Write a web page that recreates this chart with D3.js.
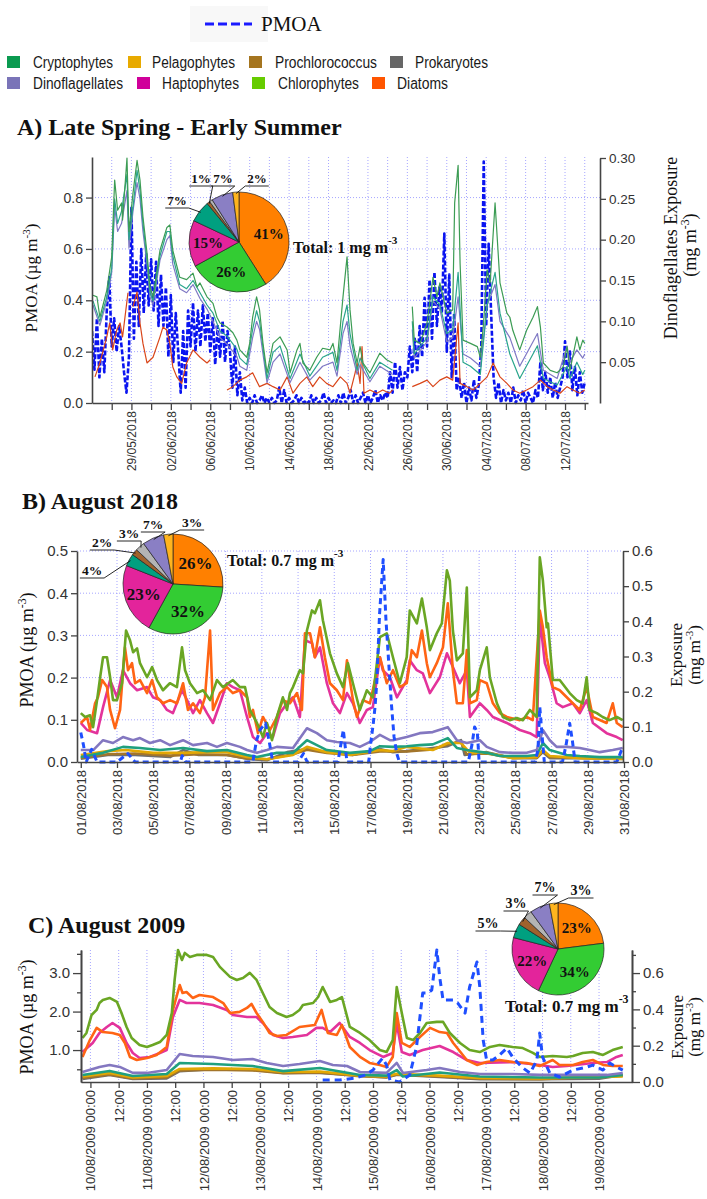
<!DOCTYPE html>
<html>
<head>
<meta charset="utf-8">
<script src="https://cdn.jsdelivr.net/npm/d3@7"></script>
<style>
  body { margin: 0; background: #fff; }
</style>
</head>
<body>
<svg id="fig" width="707" height="1199" font-family="Liberation Sans, Arial, sans-serif"></svg>
<script>
// ---------- data ----------
const groups = ["Cryptophytes", "Pelagophytes", "Prochlorococcus", "Prokaryotes",
                "Dinoflagellates", "Haptophytes", "Chlorophytes", "Diatoms"];
const legendColor = {
  Cryptophytes: "#0a9a50", Pelagophytes: "#e8aa00", Prochlorococcus: "#a5751f", Prokaryotes: "#666666",
  Dinoflagellates: "#7a74b8", Haptophytes: "#d0009a", Chlorophytes: "#66cc00", Diatoms: "#ff5500"
};
const lineColor = {
  Cryptophytes: "#1fa07e", Pelagophytes: "#e2a704", Prochlorococcus: "#a3752a", Prokaryotes: "#6e6e6e",
  Dinoflagellates: "#8377c0", Haptophytes: "#e3339b", Chlorophytes: "#6aa624", Diatoms: "#ff6414"
};
const pieColor = {
  Diatoms: "#ff8000", Chlorophytes: "#33cc33", Haptophytes: "#e3249b", Cryptophytes: "#00a080",
  Prochlorococcus: "#a0622d", Prokaryotes: "#b4b4b4", Dinoflagellates: "#8a7fc4", Pelagophytes: "#ffb41e"
};
const pieOrder = ["Diatoms", "Chlorophytes", "Haptophytes", "Cryptophytes",
                  "Prochlorococcus", "Prokaryotes", "Dinoflagellates", "Pelagophytes"];
const pieA = [41, 26, 15, 7, 1, 1, 7, 2];
const pieB = [26, 32, 23, 4, 2, 3, 7, 3];
const pieC = [23, 34, 22, 5, 3, 3, 7, 3];
const totalA = "Total: 1 mg m", totalB = "Total: 0.7 mg m", totalC = "Total: 0.7 mg m";

// panel A: [day since 25/05/2018, value]; PMOA every 6 h
const aGreen = [[0.1,0.132],[0.5,0.130],[0.8,0.105],[1.5,0.138],[2.0,0.179],[2.3,0.273],[2.6,0.236],[3.0,0.245],[3.1,0.224],[3.55,0.30],[3.75,0.21],[4.16,0.257],[4.57,0.297],[4.87,0.273],[5.17,0.228],[5.58,0.184],[5.89,0.142],[6.19,0.130],[6.9,0.187],[7.6,0.215],[7.9,0.218],[8.2,0.187],[8.9,0.154],[9.6,0.151],[10.25,0.159],[10.65,0.142],[10.96,0.147],[11.67,0.130],[12.28,0.122],[12.68,0.105],[12.99,0.098],[13.7,0.093],[14.3,0.086],[14.7,0.077],[15.0,0.065],[15.7,0.056],[16.0,0.073],[16.3,0.105],[16.7,0.130],[17.0,0.114],[17.35,0.073],[17.76,0.037],[18.37,0.073],[19.08,0.081],[19.8,0.065],[20.1,0.037],[20.8,0.065],[21.1,0.073],[21.4,0.049],[22.1,0.040],[22.8,0.056],[23.4,0.067],[24.15,0.065],[24.45,0.073],[24.86,0.049],[25.47,0.130],[25.88,0.179],[26.18,0.114],[26.5,0.073],[26.9,0.049],[27.2,0.069],[27.5,0.049],[28.2,0.037],[29.2,0.061],[29.9,0.053],[30.5,0.049],[31.5,null],[32.5,0.118],[32.7,0.077],[33.3,0.073],[34.0,0.098],[34.6,0.154],[35.0,0.130],[35.3,0.147],[36.0,0.110],[36.6,0.114],[36.8,0.245],[37.15,0.291],[37.35,0.171],[37.65,0.077],[38.4,0.073],[39.1,0.069],[39.4,0.056],[39.7,0.093],[40.1,0.163],[40.4,0.147],[40.9,0.245],[41.4,0.147],[42.1,0.110],[42.4,0.105],[42.7,0.089],[43.4,0.065],[44.1,0.089],[44.75,0.105],[45.2,0.118],[45.5,0.093],[45.8,0.049],[46.5,0.040],[47.2,0.037],[47.8,0.044],[48.2,0.069],[48.5,0.040],[49.2,0.081],[49.5,0.065],[49.8,0.077],[50.0,0.073]];
const aTeal = [[0.1,0.125],[0.8,0.10],[1.5,0.13],[2.0,0.165],[2.3,0.25],[2.6,0.22],[3.0,0.235],[3.55,0.28],[3.75,0.2],[4.16,0.24],[4.57,0.285],[4.87,0.26],[5.17,0.22],[5.58,0.175],[5.89,0.135],[6.19,0.125],[6.9,0.18],[7.6,0.21],[7.9,0.21],[8.2,0.18],[8.9,0.145],[9.6,0.14],[10.25,0.15],[10.96,0.135],[11.67,0.12],[12.28,0.11],[12.99,0.088],[13.7,0.082],[14.7,0.066],[15.0,0.055],[15.7,0.047],[16.3,0.09],[16.7,0.113],[17.0,0.1],[17.76,0.03],[18.37,0.062],[19.08,0.07],[20.1,0.03],[21.1,0.06],[22.1,0.033],[23.4,0.056],[24.45,0.062],[24.86,0.04],[25.47,0.1],[25.88,0.12],[26.18,0.085],[26.9,0.04],[27.2,0.055],[28.2,0.03],[29.2,0.05],[30.5,0.04],[31.5,null],[32.5,0.1],[32.7,0.06],[34.0,0.08],[34.6,0.13],[35.3,0.12],[36.0,0.085],[36.6,0.09],[37.15,0.16],[37.65,0.05],[38.4,0.045],[39.4,0.035],[40.1,0.12],[40.9,0.16],[41.4,0.11],[42.4,0.06],[43.4,0.03],[44.75,0.06],[45.2,0.07],[45.8,0.03],[47.2,0.022],[48.2,0.045],[48.5,0.03],[49.2,0.05],[49.8,0.035],[50.0,0.04]];
const aPurple = [[0.1,0.12],[0.8,0.095],[1.5,0.125],[2.0,0.16],[2.3,0.24],[2.6,0.21],[3.0,0.22],[3.55,0.26],[3.75,0.19],[4.16,0.235],[4.57,0.27],[4.87,0.25],[5.17,0.21],[5.58,0.17],[5.89,0.13],[6.19,0.12],[6.9,0.175],[7.6,0.2],[7.9,0.205],[8.2,0.17],[8.9,0.14],[9.6,0.135],[10.25,0.145],[10.96,0.128],[11.67,0.115],[12.28,0.1],[12.99,0.08],[13.7,0.072],[14.7,0.057],[15.0,0.045],[15.7,0.04],[16.3,0.08],[16.7,0.1],[17.0,0.09],[17.76,0.025],[18.37,0.05],[19.08,0.06],[20.1,0.025],[21.1,0.05],[22.1,0.028],[23.4,0.045],[24.45,0.05],[24.86,0.033],[25.47,0.085],[25.88,0.1],[26.18,0.07],[26.9,0.035],[27.2,0.047],[28.2,0.026],[29.2,0.045],[30.5,0.035],[31.5,null],[32.5,0.09],[32.7,0.055],[34.0,0.075],[34.6,0.125],[35.3,0.115],[36.0,0.075],[36.6,0.08],[37.15,0.13],[37.65,0.06],[38.4,0.055],[39.4,0.045],[40.1,0.12],[40.9,0.145],[41.4,0.1],[42.4,0.08],[43.4,0.045],[44.75,0.075],[45.2,0.085],[45.8,0.04],[47.2,0.03],[48.2,0.07],[48.5,0.05],[49.2,0.065],[49.8,0.055],[50.0,0.06]];
const aOrange = [[0.3,0.032],[0.8,0.049],[1.5,0.081],[1.8,0.098],[2.1,0.065],[2.5,0.089],[2.85,0.098],[3.1,0.081],[3.65,0.135],[3.9,null],[4.16,0.118],[4.57,0.136],[4.87,0.098],[5.17,0.073],[5.58,0.049],[6.19,0.056],[6.9,0.081],[7.2,0.093],[7.6,0.089],[7.9,0.073],[8.2,0.044],[8.6,0.032],[9.1,0.024],[9.6,0.049],[10.25,0.065],[10.96,0.056],[11.67,0.049],[12.0,0.053],[13.0,null],[13.7,0.016],[14.3,0.02],[15.0,0.028],[15.7,0.032],[16.3,0.037],[17.0,0.02],[17.76,0.024],[18.37,0.02],[19.08,0.016],[19.8,0.032],[20.4,0.012],[21.1,0.024],[21.8,0.032],[22.4,0.02],[23.1,0.032],[23.8,0.024],[24.45,0.02],[25.2,0.032],[25.88,0.024],[26.18,0.012],[26.7,0.037],[26.9,0.049],[27.2,0.024],[27.4,0.069],[27.6,0.012],[28.2,0.016],[28.9,0.012],[29.5,0.016],[30.2,0.012],[30.5,0.016],[31.5,null],[32.5,0.02],[33.3,0.024],[34.0,0.028],[34.6,0.02],[35.3,0.028],[36.0,0.032],[36.6,0.028],[37.15,0.098],[37.35,0.024],[38.05,0.02],[38.7,0.016],[39.4,0.024],[40.1,0.032],[40.7,0.049],[41.4,0.032],[42.1,0.024],[42.7,0.016],[43.4,0.012],[44.1,0.016],[44.75,0.02],[45.5,0.028],[46.2,0.02],[46.8,0.016],[47.5,0.012],[48.2,0.02],[48.8,0.016],[49.5,0.012],[50.0,0.016]];
const pmoaA = [0.28,0.13,0.33,0.10, 0.25,0.12,0.36,0.49, 0.22,0.33,0.20,0.30, 0.22,0.12,0.04,0.18,
  0.76,0.25,0.55,0.30, 0.60,0.35,0.58,0.38, 0.56,0.36,0.55,0.30, 0.50,0.30,0.45,0.18,
  0.42,0.16,0.35,0.20, 0.04,0.28,0.06,0.36, 0.22,0.39,0.20,0.36, 0.22,0.38,0.24,0.35,
  0.20,0.33,0.15,0.30, 0.18,0.32,0.16,0.28, 0.20,0.06,0.22,0.03, 0.12,0.01,0.06,0.00,
  0.02,0.00,0.03,0.00, 0.01,0.03,0.00,0.02, 0.00,0.02,0.00,0.01, 0.06,0.00,0.05,0.00,
  0.02,0.00,0.01,0.03, 0.00,0.02,0.00,0.01, 0.00,0.03,0.00,0.02, 0.00,0.01,0.04,0.00,
  0.02,0.00,0.01,0.00, 0.03,0.00,0.04,0.00, 0.02,0.05,0.00,0.03, 0.00,0.02,0.04,0.00,
  0.03,0.00,0.02,0.05, 0.00,0.03,0.01,0.04, 0.02,0.12,0.04,0.16, 0.06,0.14,0.05,0.12,
  0.10,0.22,0.12,0.25, 0.12,0.30,0.18,0.41, 0.22,0.48,0.25,0.51, 0.30,0.45,0.35,0.66,
  0.20,0.50,0.10,0.35, 0.05,0.10,0.02,0.08, 0.00,0.06,0.01,0.09, 0.02,0.07,0.22,0.94,
  0.30,0.62,0.35,0.10, 0.02,0.08,0.00,0.05, 0.01,0.04,0.00,0.06, 0.00,0.03,0.01,0.05,
  0.00,0.04,0.02,0.00, 0.05,0.02,0.16,0.05, 0.12,0.04,0.10,0.02, 0.08,0.02,0.06,0.10,
  0.24,0.10,0.20,0.05, 0.14,0.03,0.12,0.04, 0.08];

// panel B: [day since 01/08/2018, value]
const bChloro = [[0.0,0.139],[0.24,0.128],[0.51,0.133],[0.68,0.099],[0.9,0.176],[1.07,0.241],[1.23,0.298],[1.45,0.298],[1.62,0.241],[1.78,0.176],[2.0,0.176],[2.28,0.224],[2.5,0.374],[2.72,0.346],[2.89,0.312],[3.11,0.323],[3.27,0.281],[3.66,0.241],[3.94,0.27],[4.21,0.233],[4.54,0.204],[4.92,0.224],[5.31,0.213],[5.59,0.326],[5.76,0.261],[6.03,0.224],[6.42,0.196],[6.75,0.204],[7.14,0.176],[7.52,0.233],[7.85,0.213],[8.4,0.233],[8.79,0.213],[9.07,0.213],[9.34,0.148],[9.73,0.111],[10.06,0.071],[10.28,0.111],[10.56,0.062],[10.83,0.128],[11.16,0.184],[11.39,0.148],[11.55,0.196],[11.72,0.213],[12.1,0.261],[12.27,0.252],[12.49,0.374],[12.77,0.431],[12.93,0.423],[13.21,0.46],[13.37,0.403],[13.76,0.309],[14.14,0.252],[14.48,0.213],[14.75,0.281],[15.03,0.224],[15.41,0.148],[15.8,0.204],[16.13,0.184],[16.52,0.355],[16.9,0.366],[17.24,0.298],[17.62,0.224],[18.0,0.298],[18.17,0.431],[18.56,0.394],[18.84,0.465],[19.11,0.383],[19.28,0.318],[19.66,0.366],[19.94,0.394],[20.22,0.545],[20.38,0.516],[20.55,0.374],[20.77,0.289],[21.1,0.309],[21.32,0.496],[21.49,0.184],[21.87,0.204],[22.04,0.261],[22.42,0.326],[22.59,0.241],[22.98,0.167],[23.31,0.128],[23.69,0.119],[24.08,0.125],[24.41,0.119],[24.8,0.148],[25.18,0.128],[25.35,0.582],[25.52,0.516],[25.73,0.383],[25.8,0.394],[26.07,0.233],[26.45,0.233],[27.0,0.196],[27.39,0.176],[27.72,0.167],[27.94,0.241],[28.1,0.148],[28.5,0.139],[28.82,0.128],[29.2,0.119],[29.6,0.128],[29.93,0.119]];
const bDiatoms = [[0.0,0.111],[0.35,0.128],[0.51,0.091],[0.79,0.167],[0.95,0.184],[1.18,0.233],[1.45,0.213],[1.62,0.148],[1.89,0.096],[2.17,0.148],[2.44,0.326],[2.61,0.261],[2.83,0.281],[3.0,0.224],[3.27,0.233],[3.66,0.196],[3.94,0.233],[4.21,0.184],[4.54,0.167],[4.93,0.176],[5.31,0.167],[5.65,0.224],[5.92,0.148],[6.2,0.167],[6.58,0.139],[6.86,0.184],[7.14,0.374],[7.3,0.148],[7.69,0.196],[8.07,0.213],[8.4,0.196],[8.79,0.204],[9.18,0.184],[9.34,0.128],[9.51,0.148],[9.79,0.082],[10.06,0.128],[10.45,0.091],[10.83,0.128],[11.16,0.176],[11.55,0.167],[11.94,0.196],[12.21,0.148],[12.38,0.366],[12.66,0.366],[12.93,0.298],[13.21,0.383],[13.48,0.298],[13.76,0.224],[14.14,0.204],[14.48,0.176],[14.7,0.289],[15.03,0.176],[15.25,0.128],[15.58,0.176],[15.97,0.167],[16.52,0.298],[16.9,0.224],[17.24,0.261],[17.62,0.213],[18.0,0.224],[18.28,0.318],[18.56,0.298],[18.84,0.374],[19.11,0.281],[19.28,0.241],[19.66,0.281],[20.0,0.326],[20.27,0.451],[20.55,0.261],[20.77,0.167],[21.1,0.167],[21.32,0.318],[21.49,0.167],[21.87,0.176],[22.04,0.233],[22.42,0.224],[22.76,0.167],[23.14,0.139],[23.53,0.128],[24.25,0.119],[24.63,0.128],[24.96,0.119],[25.35,0.431],[25.52,0.383],[25.73,0.298],[26.07,0.213],[26.45,0.204],[27.17,0.167],[27.56,0.148],[27.94,0.213],[28.28,0.128],[29.04,0.111],[29.38,0.167],[29.6,0.111],[29.93,0.099]];
const bHapto = [[0.0,0.111],[0.35,0.091],[0.9,0.082],[1.23,0.156],[1.62,0.233],[2.0,0.184],[2.33,0.261],[2.72,0.224],[3.11,0.204],[3.66,0.213],[3.99,0.184],[4.38,0.176],[4.76,0.148],[5.09,0.139],[5.59,0.204],[5.87,0.176],[6.2,0.139],[6.58,0.176],[6.97,0.139],[7.3,0.111],[7.69,0.167],[8.07,0.224],[8.4,0.213],[8.79,0.204],[9.18,0.128],[9.51,0.071],[9.9,0.054],[10.28,0.082],[10.61,0.071],[11.0,0.139],[11.39,0.167],[11.72,0.184],[12.1,0.128],[12.38,0.346],[12.77,0.338],[12.93,0.298],[13.21,0.326],[13.59,0.224],[13.93,0.167],[14.31,0.139],[14.7,0.196],[15.03,0.167],[15.41,0.111],[15.8,0.148],[16.13,0.156],[16.52,0.298],[16.68,0.261],[17.07,0.241],[17.46,0.184],[18.0,0.233],[18.17,0.289],[18.56,0.261],[18.89,0.252],[19.28,0.196],[19.83,0.241],[20.22,0.309],[20.55,0.27],[20.93,0.224],[21.32,0.261],[21.49,0.128],[22.04,0.167],[22.42,0.148],[22.76,0.128],[23.53,0.111],[24.25,0.091],[24.8,0.082],[25.18,0.071],[25.35,0.411],[25.63,0.281],[25.9,0.241],[26.28,0.167],[26.62,0.156],[27.17,0.167],[27.56,0.139],[27.94,0.176],[28.28,0.111],[29.04,0.082],[29.6,0.071],[29.93,0.062]];
const bDino = [[0.0,0.034],[0.69,0.034],[1.23,0.062],[1.78,0.054],[2.33,0.071],[2.89,0.062],[3.27,0.068],[3.82,0.054],[4.38,0.062],[4.93,0.048],[5.65,0.062],[6.2,0.048],[6.97,0.054],[7.52,0.043],[8.07,0.054],[8.79,0.043],[9.18,0.034],[9.73,0.026],[10.28,0.034],[10.83,0.043],[11.72,0.04],[12.49,0.096],[13.04,0.082],[13.59,0.062],[14.14,0.057],[14.86,0.054],[15.41,0.043],[15.97,0.057],[16.52,0.077],[17.07,0.062],[17.24,0.062],[18.0,0.071],[18.72,0.082],[19.44,0.085],[20.27,0.099],[20.77,0.062],[21.32,0.054],[22.04,0.062],[22.42,0.043],[23.14,0.028],[23.86,0.026],[24.63,0.026],[25.18,0.034],[25.52,0.091],[25.9,0.062],[26.28,0.043],[26.84,0.043],[27.56,0.04],[28.1,0.034],[28.66,0.028],[29.38,0.034],[29.93,0.04]];
const bCrypto = [[0.0,0.014],[1.23,0.026],[2.33,0.043],[3.27,0.04],[4.38,0.034],[5.65,0.04],[6.97,0.031],[8.07,0.034],[9.18,0.02],[9.73,0.014],[10.83,0.026],[11.72,0.026],[12.49,0.062],[13.59,0.034],[14.86,0.026],[15.97,0.031],[16.52,0.045],[17.24,0.043],[18.0,0.045],[18.72,0.048],[19.44,0.05],[20.27,0.068],[20.77,0.04],[21.32,0.034],[22.42,0.026],[23.14,0.017],[24.63,0.017],[25.18,0.02],[25.52,0.054],[25.9,0.034],[26.84,0.02],[27.56,0.017],[28.66,0.014],[29.93,0.014]];
const bPelago = [[0.0,0.02],[1.5,0.031],[2.5,0.034],[4.0,0.026],[5.65,0.026],[6.97,0.028],[8.07,0.028],[9.18,0.014],[10.28,0.008],[11.72,0.02],[12.49,0.043],[13.59,0.028],[14.86,0.02],[16.52,0.034],[17.24,0.031],[18.0,0.043],[19.44,0.034],[20.27,0.054],[21.0,0.054],[21.5,0.026],[22.42,0.026],[23.86,0.011],[25.18,0.014],[25.52,0.034],[25.9,0.017],[27.56,0.011],[29.93,0.009]];
const bProk = [[0.0,0.009],[1.5,0.02],[3.0,0.02],[4.93,0.014],[5.65,0.034],[6.5,0.02],[8.07,0.02],[9.18,0.009],[10.28,0.005],[11.4,0.028],[12.49,0.037],[13.59,0.028],[15.0,0.02],[16.52,0.037],[17.24,0.028],[18.0,0.031],[19.44,0.04],[20.27,0.045],[21.0,0.062],[21.2,0.02],[22.42,0.028],[23.86,0.011],[25.18,0.011],[25.52,0.028],[25.9,0.011],[27.56,0.011],[29.93,0.009]];
const bProchl = [[0.0,0.012],[1.5,0.022],[3.0,0.024],[4.93,0.018],[6.5,0.022],[8.07,0.02],[9.18,0.01],[10.28,0.008],[11.72,0.022],[12.49,0.035],[13.59,0.026],[15.0,0.02],[16.52,0.03],[18.0,0.03],[19.44,0.036],[20.27,0.05],[21.0,0.058],[21.3,0.022],[22.42,0.024],[23.86,0.012],[25.18,0.012],[25.52,0.03],[25.9,0.014],[27.56,0.012],[29.93,0.01]];
const pmoaB = [[0.0,0.07],[0.15,0.04],[0.3,0.0],[0.6,0.03],[0.9,0.0],[2.0,0.0],[2.6,0.02],[3.0,0.0],[5.5,0.0],[5.6,0.015],[5.8,0.0],[9.5,0.0],[9.7,0.05],[9.9,0.076],[10.2,0.092],[10.4,0.05],[10.6,0.0],[12.0,0.0],[12.3,0.02],[12.5,0.0],[14.2,0.0],[14.5,0.076],[14.7,0.0],[15.9,0.0],[16.0,0.04],[16.15,0.09],[16.25,0.13],[16.35,0.19],[16.5,0.35],[16.7,0.48],[16.85,0.34],[17.0,0.24],[17.15,0.14],[17.3,0.06],[17.45,0.02],[17.6,0.0],[21.4,0.0],[21.6,0.04],[21.75,0.083],[21.9,0.07],[22.0,0.0],[25.1,0.0],[25.25,0.03],[25.35,0.13],[25.5,0.05],[25.6,0.0],[26.6,0.0],[26.8,0.04],[27.0,0.092],[27.15,0.05],[27.3,0.0],[29.6,0.0],[29.93,0.035]];

// panel C: [day since 10/08/2009 00:00, value]
const cChloro = [[-0.14,0.242],[-0.07,0.27],[0.02,0.369],[0.11,0.397],[0.16,0.435],[0.22,0.452],[0.34,0.463],[0.47,0.441],[0.55,0.38],[0.64,0.303],[0.73,0.242],[0.87,0.204],[1.0,0.193],[1.1,0.204],[1.23,0.22],[1.35,0.259],[1.44,0.38],[1.49,0.562],[1.55,0.727],[1.62,0.672],[1.67,0.711],[1.76,0.689],[1.88,0.7],[2.06,0.7],[2.17,0.689],[2.29,0.634],[2.47,0.579],[2.59,0.562],[2.7,0.573],[2.82,0.601],[2.94,0.562],[3.05,0.49],[3.17,0.413],[3.3,0.38],[3.47,0.358],[3.58,0.369],[3.7,0.397],[3.76,0.424],[3.94,0.435],[4.03,0.468],[4.11,0.523],[4.24,0.441],[4.36,0.452],[4.45,0.468],[4.59,0.303],[4.77,0.27],[4.94,0.231],[5.12,0.176],[5.24,0.165],[5.35,0.231],[5.42,0.523],[5.51,0.38],[5.6,0.242],[5.71,0.231],[5.83,0.27],[5.95,0.325],[6.13,0.331],[6.24,0.331],[6.36,0.27],[6.54,0.215],[6.71,0.176],[6.89,0.165],[7.07,0.193],[7.24,0.204],[7.47,0.193],[7.65,0.187],[7.83,0.16],[7.95,0.138],[8.18,0.143],[8.43,0.138],[8.54,0.143],[8.71,0.16],[8.89,0.165],[9.07,0.149],[9.24,0.176],[9.42,0.193]];
const cDiatoms = [[-0.14,0.138],[-0.01,0.231],[0.11,0.298],[0.22,0.275],[0.39,0.27],[0.52,0.259],[0.61,0.215],[0.7,0.138],[0.82,0.121],[1.0,0.132],[1.17,0.149],[1.35,0.193],[1.46,0.397],[1.58,0.534],[1.63,0.49],[1.7,0.496],[1.81,0.463],[1.93,0.479],[2.17,0.468],[2.35,0.435],[2.47,0.38],[2.64,0.386],[2.77,0.408],[2.85,0.43],[2.94,0.38],[3.05,0.331],[3.17,0.27],[3.3,0.253],[3.47,0.259],[3.7,0.303],[3.97,0.314],[4.09,0.397],[4.2,0.27],[4.36,0.259],[4.45,0.314],[4.59,0.193],[4.77,0.138],[4.94,0.105],[5.12,0.094],[5.24,0.083],[5.35,0.138],[5.42,0.38],[5.51,0.215],[5.65,0.193],[5.83,0.248],[6.01,0.298],[6.18,0.275],[6.31,0.27],[6.42,0.215],[6.66,0.121],[6.84,0.094],[7.01,0.11],[7.24,0.121],[7.47,0.11],[7.72,0.105],[7.95,0.088],[8.07,0.105],[8.18,0.121],[8.3,0.094],[8.54,0.094],[8.71,0.11],[8.89,0.121],[9.07,0.094],[9.24,0.088],[9.42,0.088]];
const cHapto = [[-0.14,0.165],[0.04,0.215],[0.16,0.27],[0.29,0.303],[0.39,0.325],[0.52,0.298],[0.64,0.215],[0.75,0.16],[0.87,0.132],[1.05,0.138],[1.23,0.16],[1.35,0.176],[1.46,0.358],[1.58,0.452],[1.7,0.435],[1.93,0.435],[2.17,0.424],[2.41,0.397],[2.52,0.369],[2.77,0.358],[2.94,0.358],[3.05,0.325],[3.23,0.259],[3.41,0.242],[3.58,0.248],[3.83,0.259],[4.0,0.298],[4.11,0.298],[4.24,0.275],[4.41,0.325],[4.59,0.248],[4.77,0.215],[4.94,0.176],[5.18,0.138],[5.35,0.16],[5.42,0.325],[5.51,0.165],[5.65,0.149],[5.88,0.176],[6.18,0.198],[6.42,0.165],[6.66,0.121],[6.89,0.105],[7.47,0.11],[7.95,0.094],[8.18,0.083],[8.43,0.088],[8.89,0.105],[9.14,0.11],[9.31,0.138],[9.42,0.149]];
const cDino = [[-0.14,0.055],[0.16,0.083],[0.34,0.094],[0.52,0.083],[0.75,0.05],[1.0,0.05],[1.35,0.066],[1.58,0.154],[1.81,0.143],[2.17,0.138],[2.52,0.121],[2.87,0.127],[3.12,0.105],[3.41,0.088],[3.7,0.099],[4.06,0.116],[4.29,0.094],[4.54,0.088],[4.77,0.055],[5.24,0.05],[5.42,0.105],[5.53,0.05],[5.95,0.066],[6.18,0.077],[6.54,0.055],[6.89,0.044],[7.47,0.044],[7.95,0.039],[8.54,0.039],[9.14,0.039],[9.42,0.05]];
const cCrypto = [[-0.14,0.039],[0.34,0.061],[0.75,0.033],[1.35,0.044],[1.58,0.105],[2.17,0.099],[2.87,0.088],[3.41,0.06],[4.06,0.077],[4.77,0.039],[5.24,0.035],[5.42,0.066],[5.53,0.03],[6.18,0.052],[6.89,0.03],[7.95,0.025],[9.0,0.025],[9.42,0.039]];
const cPelago = [[-0.14,0.03],[0.34,0.05],[0.75,0.025],[1.35,0.033],[1.58,0.072],[2.17,0.075],[2.87,0.072],[3.41,0.055],[4.06,0.058],[4.77,0.035],[5.24,0.03],[5.42,0.045],[6.18,0.035],[6.89,0.022],[7.95,0.02],[9.42,0.03]];
const cProk = [[-0.14,0.017],[0.34,0.039],[0.75,0.017],[1.35,0.02],[1.58,0.06],[2.17,0.07],[2.87,0.068],[3.41,0.05],[4.06,0.05],[4.77,0.035],[5.24,0.025],[5.42,0.04],[6.18,0.028],[6.89,0.015],[7.95,0.015],[9.0,0.018],[9.42,0.039]];
const cProchl = [[-0.14,0.022],[0.34,0.042],[0.75,0.02],[1.35,0.025],[1.58,0.064],[2.17,0.068],[2.87,0.064],[3.41,0.048],[4.06,0.052],[4.77,0.032],[5.24,0.027],[5.42,0.042],[6.18,0.03],[6.89,0.018],[7.95,0.016],[9.42,0.035]];
const pmoaC = [[4.11,0.22],[4.41,0.22],[4.68,0.27],[4.86,0.35],[5.0,0.48],[5.07,0.61],[5.17,0.79],[5.24,0.61],[5.3,0.22],[5.47,0.17],[5.65,0.35],[5.77,1.08],[5.88,2.48],[5.97,2.48],[6.04,2.56],[6.13,3.6],[6.18,2.9],[6.24,2.3],[6.42,2.3],[6.5,2.22],[6.63,1.96],[6.71,2.64],[6.84,3.29],[6.89,2.64],[6.95,1.26],[7.01,0.74],[7.12,0.74],[7.24,0.87],[7.37,1.05],[7.47,0.82],[7.63,0.56],[7.78,0.4],[7.9,0.74],[7.95,1.44],[8.0,0.82],[8.13,0.4],[8.3,0.3],[8.54,0.48],[8.79,0.56],[8.89,0.61],[9.07,0.48],[9.19,0.66],[9.31,0.56],[9.42,0.48]];

// ---------- drawing ----------
const svg = d3.select("#fig");
const serif = "Liberation Serif, Times New Roman, serif";
const sans = "Liberation Sans, Arial, sans-serif";
const baseA = new Date(2018, 4, 25), baseB = new Date(2018, 7, 1), baseC = new Date(2009, 7, 10);
const toDate = (base, d) => new Date(+base + d * 864e5);

function styleAxis(g, fs) {
  g.attr("font-family", sans);
  g.select(".domain").attr("stroke", "#444").attr("stroke-width", 1.6);
  g.selectAll(".tick line").attr("stroke", "#444").attr("stroke-width", 1.3);
  g.selectAll(".tick text").attr("fill", "#333").attr("font-size", fs);
}
function rotateLabels(g) {
  g.selectAll(".tick text").attr("transform", "rotate(-90)").attr("text-anchor", "end")
    .attr("x", -8).attr("y", 0).attr("dy", "0.35em");
}
function drawSeries(g, data, x, y, base, color, w, dash) {
  const line = d3.line().defined(d => d[1] != null)
    .x(d => x(toDate(base, d[0]))).y(d => y(d[1]));
  g.append("path").datum(data).attr("d", line).attr("fill", "none")
    .attr("stroke", color).attr("stroke-width", w).attr("stroke-linejoin", "round")
    .attr("stroke-dasharray", dash || null);
}
function rotTitle(x, y, main, sup, tail, fs) {
  const t = svg.append("text").attr("transform", `translate(${x},${y}) rotate(-90)`)
    .attr("text-anchor", "middle").attr("font-family", serif).attr("font-size", fs).attr("fill", "#111");
  t.append("tspan").text(main);
  if (sup) {
    t.append("tspan").attr("dy", -fs * 0.4).attr("font-size", fs * 0.65).text(sup);
    t.append("tspan").attr("dy", fs * 0.4).text(tail);
  }
}
function title(x, y, s) {
  svg.append("text").attr("x", x).attr("y", y).attr("font-family", serif).attr("font-weight", "bold")
    .attr("font-size", 24).attr("fill", "#111").text(s);
}
function hGrid(g, ys, vals, x0, x1) {
  g.selectAll(null).data(vals).join("line").attr("x1", x0).attr("x2", x1)
    .attr("y1", d => ys(d)).attr("y2", d => ys(d))
    .attr("stroke", "#8f8fff").attr("stroke-width", 0.8).attr("stroke-dasharray", "1,2");
}
function vGrid(g, xs, vals, y0, y1) {
  g.selectAll(null).data(vals).join("line").attr("y1", y0).attr("y2", y1)
    .attr("x1", d => xs(d)).attr("x2", d => xs(d))
    .attr("stroke", "#8f8fff").attr("stroke-width", 0.8).attr("stroke-dasharray", "1,2");
}
function drawPie(cx, cy, r, values, inFs, outFs, outer, total, tx, ty, tFs) {
  const g = svg.append("g").attr("transform", `translate(${cx},${cy})`);
  const arcs = d3.pie().sort(null).value(d => d)(values);
  const arc = d3.arc().innerRadius(0).outerRadius(r);
  g.selectAll("path").data(arcs).join("path").attr("d", arc)
    .attr("fill", (d, i) => pieColor[pieOrder[i]]).attr("stroke", "#222").attr("stroke-width", 0.7);
  [0, 1, 2].forEach(i => {
    const m = (arcs[i].startAngle + arcs[i].endAngle) / 2;
    g.append("text").attr("x", Math.sin(m) * r * 0.62).attr("y", -Math.cos(m) * r * 0.62)
      .attr("dy", "0.35em").attr("text-anchor", "middle").attr("font-family", serif)
      .attr("font-weight", "bold").attr("font-size", inFs).attr("fill", "#111").text(values[i] + "%");
  });
  outer.forEach(o => {
    const t = g.append("text").attr("x", o.dx).attr("y", o.dy).attr("text-anchor", "middle")
      .attr("font-family", serif).attr("font-weight", "bold").attr("font-size", outFs)
      .attr("fill", "#111").text(values[o.i] + "%");
    const w = t.node().getComputedTextLength();
    const xl = o.dx - w / 2 - 2, xr = o.dx + w / 2 + 2, yu = o.dy + 3;
    g.append("line").attr("x1", xl).attr("x2", xr).attr("y1", yu).attr("y2", yu)
      .attr("stroke", "#111").attr("stroke-width", 0.9);
    const m = (arcs[o.i].startAngle + arcs[o.i].endAngle) / 2;
    const xe = o.side === "left" ? xl : xr;
    g.append("line").attr("x1", xe).attr("y1", yu).attr("x2", Math.sin(m) * r * 0.97)
      .attr("y2", -Math.cos(m) * r * 0.97).attr("stroke", "#111").attr("stroke-width", 0.9);
  });
  const tt = svg.append("text").attr("x", tx).attr("y", ty).attr("font-family", serif)
    .attr("font-weight", "bold").attr("font-size", tFs).attr("fill", "#111");
  tt.append("tspan").text(total);
  tt.append("tspan").attr("dy", -tFs * 0.55).attr("font-size", tFs * 0.7).text("-3");
}

// ---------- legend ----------
svg.append("rect").attr("x", 190).attr("y", 6).attr("width", 78).attr("height", 36).attr("fill", "#f8f8f8");
svg.append("line").attr("x1", 205).attr("x2", 252).attr("y1", 24).attr("y2", 24)
  .attr("stroke", "#1a1aff").attr("stroke-width", 3).attr("stroke-dasharray", "9,4");
svg.append("text").attr("x", 261).attr("y", 31).attr("font-family", serif).attr("font-size", 21)
  .attr("fill", "#111").text("PMOA");
const legSquareX = [7, 128, 249, 390, 7, 137, 252, 372];
const legTextX = [33, 152, 275, 415, 33, 162, 278, 397];
const legTextW = [80, 83, 102, 73, 90, 77, 81, 51];
groups.forEach((gname, i) => {
  const yc = i < 4 ? 62 : 83;
  svg.append("rect").attr("x", legSquareX[i]).attr("y", yc - 6).attr("width", 13).attr("height", 12)
    .attr("fill", legendColor[gname]);
  svg.append("text").attr("x", legTextX[i]).attr("y", yc + 6).attr("font-size", 16)
    .attr("font-family", sans).attr("fill", "#1a1a1a")
    .attr("textLength", legTextW[i]).attr("lengthAdjust", "spacingAndGlyphs").text(gname);
});

// ---------- panel A ----------
title(17, 135, "A) Late Spring - Early Summer");
const xA = d3.scaleTime().domain([baseA, toDate(baseA, 50.33)]).range([92, 588]);
const yAl = d3.scaleLinear().domain([0, 0.958]).range([403, 157]);
const yAr = d3.scaleLinear().domain([0, 0.30]).range([403, 158]);
const gA = svg.append("g");
const tickDaysA = d3.range(2, 51, 2);
vGrid(gA, xA, tickDaysA.map(d => toDate(baseA, d)), 157, 403);
hGrid(gA, yAl, [0.2, 0.4, 0.6, 0.8], 92, 600);
svg.append("clipPath").attr("id", "clipA").append("rect").attr("x", 92).attr("y", 152).attr("width", 497).attr("height", 253);
const pA = gA.append("g").attr("clip-path", "url(#clipA)");
drawSeries(pA, pmoaA.map((v, i) => [i * 0.25, v]), xA, yAl, baseA, "#0a14f0", 2.6, "5,2");
drawSeries(pA, aOrange, xA, yAr, baseA, "#d9461a", 1.2);
drawSeries(pA, aPurple, xA, yAr, baseA, "#7f78c4", 1.2);
drawSeries(pA, aTeal, xA, yAr, baseA, "#2aa58c", 1.2);
drawSeries(pA, aGreen, xA, yAr, baseA, "#3c9c54", 1.2);
const fmtA = d3.timeFormat("%d/%m/%Y");
const axA = svg.append("g").attr("transform", "translate(0,403)")
  .call(d3.axisBottom(xA).tickValues(tickDaysA.map(d => toDate(baseA, d)))
    .tickFormat((d, i) => tickDaysA[i] % 4 === 0 ? fmtA(d) : "").tickSize(7).tickSizeOuter(0));
styleAxis(axA, 12); rotateLabels(axA);
const ayAl = svg.append("g").attr("transform", "translate(92,0)")
  .call(d3.axisLeft(yAl).tickValues([0, 0.2, 0.4, 0.6, 0.8]).tickFormat(d3.format(".1f")).tickSize(6).tickSizeOuter(0));
styleAxis(ayAl, 14);
const ayAr = svg.append("g").attr("transform", "translate(600,0)")
  .call(d3.axisRight(yAr).tickValues([0.05, 0.1, 0.15, 0.2, 0.25, 0.3]).tickFormat(d3.format(".2f")).tickSize(6).tickSizeOuter(0));
styleAxis(ayAr, 13.5);
rotTitle(37, 278, "PMOA (µg m", "-3", ")", 17);
rotTitle(677, 248, "Dinoflagellates Exposure", null, null, 18);
rotTitle(696, 245, "(mg m", "-3", ")", 18);
drawPie(239, 242, 50, pieA, 15, 13, [
  { i: 3, dx: -62, dy: -37, side: "right" },
  { i: 4, dx: -38, dy: -59, side: "right" },
  { i: 6, dx: -16, dy: -59, side: "right" },
  { i: 7, dx: 18, dy: -59, side: "left" }
], totalA, 293, 253, 16);

// ---------- panel B ----------
title(22, 509, "B) August 2018");
const xB = d3.scaleTime().domain([toDate(baseB, -5 / 24), new Date(2018, 7, 31)]).range([77, 624]);
const yBl = d3.scaleLinear().domain([0, 0.5]).range([762, 551]);
const yBr = d3.scaleLinear().domain([0, 0.6]).range([762, 551]);
const gB = svg.append("g");
const tickDaysB = d3.range(0, 31, 2);
vGrid(gB, xB, tickDaysB.slice(1, -1).map(d => toDate(baseB, d)), 551, 762);
hGrid(gB, yBl, [0.1, 0.2, 0.3, 0.4, 0.5], 77, 623);
svg.append("clipPath").attr("id", "clipB").append("rect").attr("x", 77).attr("y", 545).attr("width", 548).attr("height", 219);
const pB = gB.append("g").attr("clip-path", "url(#clipB)");
[[bProk, "Prokaryotes"], [bProchl, "Prochlorococcus"], [bPelago, "Pelagophytes"], [bCrypto, "Cryptophytes"],
 [bDino, "Dinoflagellates"], [bHapto, "Haptophytes"], [bDiatoms, "Diatoms"], [bChloro, "Chlorophytes"]]
  .forEach(s => drawSeries(pB, s[0], xB, yBr, baseB, lineColor[s[1]], 2.6));
drawSeries(pB, pmoaB, xB, yBl, baseB, "#1f4fff", 3, "6,4");
const axB = svg.append("g").attr("transform", "translate(0,762)")
  .call(d3.axisBottom(xB).tickValues(tickDaysB.map(d => toDate(baseB, d)))
    .tickFormat(d3.timeFormat("%d/%m/%Y")).tickSize(6).tickSizeOuter(0));
styleAxis(axB, 13); rotateLabels(axB);
const ayBl = svg.append("g").attr("transform", "translate(77,0)")
  .call(d3.axisLeft(yBl).ticks(5).tickFormat(d3.format(".1f")).tickSize(6).tickSizeOuter(0));
styleAxis(ayBl, 15);
const ayBr = svg.append("g").attr("transform", "translate(623,0)")
  .call(d3.axisRight(yBr).ticks(6).tickFormat(d3.format(".1f")).tickSize(6).tickSizeOuter(0));
styleAxis(ayBr, 15);
rotTitle(33, 650, "PMOA (µg m", "-3", ")", 18);
rotTitle(682, 655, "Exposure", null, null, 17);
rotTitle(700, 655, "(mg m", "-3", ")", 17);
drawPie(173, 584, 50, pieB, 17, 13.5, [
  { i: 3, dx: -81, dy: -9, side: "right" },
  { i: 4, dx: -71, dy: -37, side: "right" },
  { i: 5, dx: -44, dy: -46, side: "right" },
  { i: 6, dx: -20, dy: -55, side: "right" },
  { i: 7, dx: 19, dy: -57, side: "left" }
], totalB, 227, 566, 16);

// ---------- panel C ----------
title(28, 933, "C) August 2009");
const xC = d3.scaleTime().domain([toDate(baseC, -4 / 24), toDate(baseC, 9.5833)]).range([81, 632]);
const yCl = d3.scaleLinear().domain([0.17, 3.6]).range([1082, 950]);
const yCr = d3.scaleLinear().domain([0, 0.727]).range([1082, 950]);
const gC = svg.append("g");
const tickC = d3.range(0, 19).map(i => toDate(baseC, i * 0.5));
vGrid(gC, xC, tickC, 950, 1082);
svg.append("clipPath").attr("id", "clipC").append("rect").attr("x", 81).attr("y", 945).attr("width", 551).attr("height", 139);
const pC = gC.append("g").attr("clip-path", "url(#clipC)");
[[cProk, "Prokaryotes"], [cProchl, "Prochlorococcus"], [cPelago, "Pelagophytes"], [cCrypto, "Cryptophytes"],
 [cDino, "Dinoflagellates"], [cHapto, "Haptophytes"], [cDiatoms, "Diatoms"], [cChloro, "Chlorophytes"]]
  .forEach(s => drawSeries(pC, s[0], xC, yCr, baseC, lineColor[s[1]], 2.6));
drawSeries(pC, pmoaC, xC, yCl, baseC, "#1f4fff", 3, "7,5");
const fmtMid = d3.timeFormat("%d/%m/%Y %H:%M"), fmtNoon = d3.timeFormat("%H:%M");
const axC = svg.append("g").attr("transform", "translate(0,1082)")
  .call(d3.axisBottom(xC).tickValues(tickC).tickFormat(d => d.getHours() === 0 ? fmtMid(d) : fmtNoon(d))
    .tickSize(6).tickSizeOuter(0));
styleAxis(axC, 13); rotateLabels(axC);
const ayCl = svg.append("g").attr("transform", "translate(81,0)")
  .call(d3.axisLeft(yCl).tickValues([1, 2, 3]).tickFormat(d3.format(".1f")).tickSize(8).tickSizeOuter(0));
styleAxis(ayCl, 15);
const ayClm = svg.append("g").attr("transform", "translate(81,0)")
  .call(d3.axisLeft(yCl).tickValues([0.5, 1.5, 2.5, 3.5]).tickFormat("").tickSize(4).tickSizeOuter(0));
styleAxis(ayClm, 15);
const ayCr = svg.append("g").attr("transform", "translate(632,0)")
  .call(d3.axisRight(yCr).tickValues([0, 0.2, 0.4, 0.6]).tickFormat(d3.format(".1f")).tickSize(8).tickSizeOuter(0));
styleAxis(ayCr, 15);
const ayCrm = svg.append("g").attr("transform", "translate(632,0)")
  .call(d3.axisRight(yCr).tickValues([0.1, 0.3, 0.5, 0.7]).tickFormat("").tickSize(4).tickSizeOuter(0));
styleAxis(ayCrm, 15);
rotTitle(33, 1017, "PMOA (µg m", "-3", ")", 18);
rotTitle(683, 1027, "Exposure", null, null, 17);
rotTitle(700, 1027, "(mg m", "-3", ")", 17);
drawPie(558, 949, 46, pieC, 15, 14, [
  { i: 3, dx: -70, dy: -21, side: "right" },
  { i: 4, dx: -42, dy: -41, side: "right" },
  { i: 6, dx: -13, dy: -57, side: "right" },
  { i: 7, dx: 23, dy: -54, side: "left" }
], totalC, 505, 1012, 17);
</script>
</body>
</html>
